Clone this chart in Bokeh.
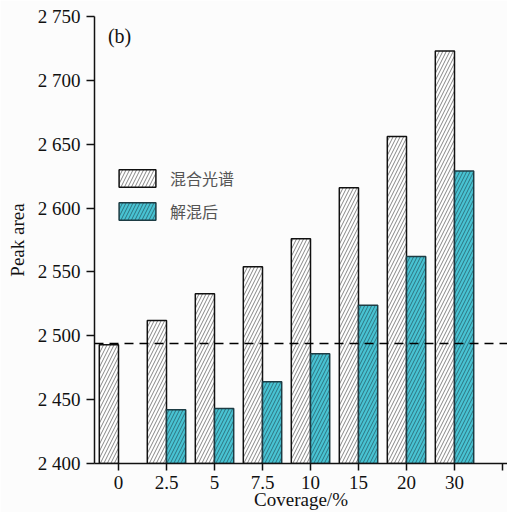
from bokeh.plotting import figure
from bokeh.models import ColumnDataSource, FixedTicker, Span, Label, Legend, LegendItem, Range1d
from bokeh.transform import dodge
from bokeh.embed import file_html
from bokeh.resources import INLINE

categories = ["0", "2.5", "5", "7.5", "10", "15", "20", "30"]
mixed = [2493, 2512, 2533, 2554, 2576, 2616, 2656, 2723]
unmixed = [None, 2442, 2443, 2464, 2486, 2524, 2562, 2629]
reference_level = 2494
y_ticks = [2400, 2450, 2500, 2550, 2600, 2650, 2700, 2750]
y_tick_labels = ["2 400", "2 450", "2 500", "2 550", "2 600", "2 650", "2 700", "2 750"]

idx = list(range(len(categories)))
src_m = ColumnDataSource(dict(x=idx, top=mixed))
ui = [i for i, v in zip(idx, unmixed) if v is not None]
uv = [v for v in unmixed if v is not None]
src_u = ColumnDataSource(dict(x=ui, top=uv))

BG = "#fcfcfc"
SERIF = "Liberation Serif"

p = figure(width=507, height=512, output_backend="svg", toolbar_location=None,
           x_range=Range1d(-0.5, 8.104), y_range=Range1d(2400, 2750),
           min_border_left=94, min_border_right=0, min_border_top=16, min_border_bottom=49,
           background_fill_color=BG, border_fill_color=BG, outline_line_color=None)
p.grid.visible = False

r1 = p.vbar(x=dodge("x", -0.2), top="top", bottom=2400, width=0.4, source=src_m,
            fill_color="white", line_color="#111111", line_width=1.5,
            hatch_pattern="/", hatch_color="#666666", hatch_scale=7, hatch_weight=0.8)
r2 = p.vbar(x=dodge("x", 0.2), top="top", bottom=2400, width=0.4, source=src_u,
            fill_color="#48c3d3", line_color="#1d3c44", line_width=1.5,
            hatch_pattern="/", hatch_color="#23505a", hatch_scale=7, hatch_weight=0.7)

p.add_layout(Span(location=reference_level, dimension="width", line_color="black",
                  line_dash="9 6", line_width=1.6))

legend = Legend(items=[LegendItem(label="混合光谱", renderers=[r1]),
                       LegendItem(label="解混后", renderers=[r2])],
                location=(20, 240), glyph_width=46, glyph_height=22, spacing=9,
                padding=0, margin=0, label_standoff=10,
                background_fill_alpha=0, border_line_color=None,
                label_text_font="Noto Sans CJK SC", label_text_font_size="16px",
                label_text_color="#555555")
p.add_layout(legend)

p.add_layout(Label(x=-0.22, y=2735, text="(b)", text_font=SERIF, text_font_size="20px",
                   text_baseline="middle", text_color="#111111"))

p.xaxis.ticker = FixedTicker(ticks=idx + [8])
p.xaxis.major_label_overrides = {**{i: c for i, c in zip(idx, categories)}, 8: ""}
p.yaxis.ticker = FixedTicker(ticks=y_ticks)
p.yaxis.major_label_overrides = {t: l for t, l in zip(y_ticks, y_tick_labels)}

for ax in (p.xaxis, p.yaxis):
    ax.axis_line_width = 1.5
    ax.axis_line_color = "#111111"
    ax.major_tick_line_color = "#111111"
    ax.major_tick_line_width = 1.5
    ax.major_tick_in = 0
    ax.minor_tick_line_color = None
    ax.major_label_text_font = SERIF
    ax.major_label_text_font_size = "19px"
    ax.major_label_text_color = "#111111"
    ax.axis_label_text_font = SERIF
    ax.axis_label_text_font_size = "19px"
    ax.axis_label_text_font_style = "normal"
    ax.axis_label_text_color = "#111111"

p.xaxis.axis_label = "Coverage/%"
p.yaxis.axis_label = "Peak area"
p.yaxis.major_tick_out = 8
p.xaxis.major_tick_out = 7
p.xaxis.major_label_standoff = 5
p.yaxis.major_label_standoff = 6
p.xaxis.axis_label_standoff = -3
p.yaxis.axis_label_standoff = 7

open("out.html", "w").write(file_html(p, INLINE))
